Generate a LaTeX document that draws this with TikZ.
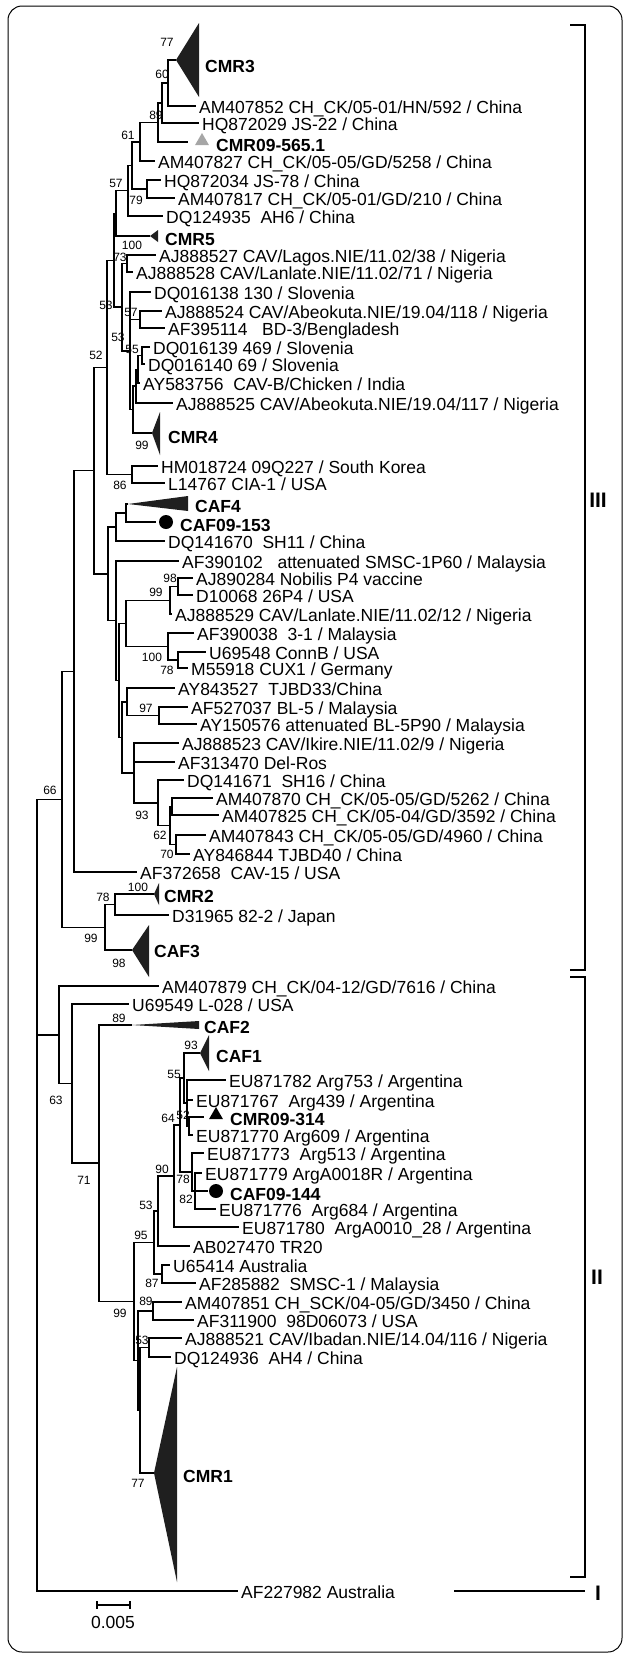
\documentclass[tikz,border=0pt]{standalone}
\usepackage{fontspec}
\setmainfont{Liberation Sans}
\usetikzlibrary{positioning,shapes.geometric}
\begin{document}
\begin{tikzpicture}[x=1pt,y=-1pt,
    leaf/.style={anchor=west,inner xsep=3pt,inner ysep=0pt,text height=14pt,text depth=0pt,
      font=\fontsize{17.5}{18}\selectfont},
    clade/.style={leaf,font=\fontsize{17.5}{18}\selectfont\bfseries},
    boot/.style={inner sep=0pt,font=\fontsize{12}{12}\selectfont},
    group/.style={inner sep=0pt,font=\fontsize{21}{21}\selectfont\bfseries},
    branch/.style={line width=1.5pt},
    collapsed/.style={fill=black!88},
    bracket/.style={line width=2pt}]
  \useasboundingbox (0,0) rectangle (627,1657);
  \draw[line width=1pt,rounded corners=14pt] (8,6) rectangle (622,1652);

  % internal nodes
  \path
    (168,83) coordinate (n60)      (162,103) coordinate (n89)
    (158,122.5) coordinate (n61)   (140,141.75) coordinate (nB)
    (147,189) coordinate (n79)     (132,165.4) coordinate (n57)
    (128,190.7) coordinate (nC)    (116,213.4) coordinate (nD)
    (127,263.5) coordinate (n73)   (140,319.5) coordinate (n57b)
    (142,355.5) coordinate (n55)   (138,369.25) coordinate (nS2)
    (136,386.1) coordinate (nS3)   (133,409.6) coordinate (nS4)
    (130,350.8) coordinate (nS5)   (122,307.2) coordinate (n53)
    (114,260.3) coordinate (n53c)  (132,474.5) coordinate (n86)
    (107,367.4) coordinate (n52)   (126,513) coordinate (nCAF4)
    (116,527) coordinate (nSH11)   (178,586.5) coordinate (n98)
    (170,600.25) coordinate (n99)  (178,660) coordinate (n78)
    (168,646.5) coordinate (n100)  (126,623.4) coordinate (nN1)
    (159,715.5) coordinate (n97)   (127,701.75) coordinate (nT1)
    (172,806.5) coordinate (nC4)   (176,844.5) coordinate (n70)
    (170,825.5) coordinate (n62)   (158,802.75) coordinate (n93)
    (134,772.9) coordinate (nT2)   (122,737.3) coordinate (nQ)
    (119,680.3) coordinate (nY)    (116,620.7) coordinate (nX)
    (108,573.8) coordinate (nL)    (94,470.6) coordinate (n94)
    (74,671.3) coordinate (nIII1)  (115,904.5) coordinate (n78b)
    (105,927.3) coordinate (nIII2) (62,799.3) coordinate (n66)
    (189,1126) coordinate (n52b)   (187,1103) coordinate (n64)
    (184,1078) coordinate (n55b)   (195,1191) coordinate (n82)
    (192,1172) coordinate (n78c)   (180,1125) coordinate (nArg)
    (174,1176) coordinate (n90)    (158,1211) coordinate (n53d)
    (162,1274) coordinate (n87)    (154,1242.5) coordinate (n95)
    (153,1311) coordinate (n89b)   (149,1347.5) coordinate (n53e)
    (140,1410) coordinate (nM2)    (138,1360.5) coordinate (nM)
    (134,1301.5) coordinate (n99c) (99,1163) coordinate (n89n)
    (72,1083.5) coordinate (n71)   (59,1034.75) coordinate (n63)
    (37,1195) coordinate (root);

  % collapsed clades
  \path
    (176,60) coordinate (cmr3)   (150,236) coordinate (cmr5)
    (152,433) coordinate (cmr4)  (128,504) coordinate (caf4)
    (154,894) coordinate (cmr2)  (132,950) coordinate (caf3)
    (132,1025) coordinate (caf2) (200,1053) coordinate (caf1)
    (154,1473) coordinate (cmr1);
  \fill[collapsed] (cmr3) -- (199,23) -- (199,97) -- cycle;
  \fill[collapsed] (cmr5) -- (158,230) -- (158,242) -- cycle;
  \fill[collapsed] (cmr4) -- (160,412) -- (160,455) -- cycle;
  \fill[collapsed] (caf4) -- (188,496) -- (188,511) -- cycle;
  \fill[collapsed] (cmr2) -- (159,883) -- (159,905) -- cycle;
  \fill[collapsed] (caf3) -- (149,925) -- (149,977) -- cycle;
  \fill[collapsed] (caf2) -- (199,1021) -- (199,1029) -- cycle;
  \fill[collapsed] (caf1) -- (209,1035) -- (209,1071) -- cycle;
  \fill[collapsed] (cmr1) -- (177,1367) -- (177,1582) -- cycle;
  \path
    (202,65) node[clade] (cmr3lab) {CMR3}
    (162,238) node[clade] (cmr5lab) {CMR5}
    (165,436) node[clade] (cmr4lab) {CMR4}
    (192,505) node[clade] (caf4lab) {CAF4}
    (161,895) node[clade] (cmr2lab) {CMR2}
    (151,950) node[clade] (caf3lab) {CAF3}
    (201,1026) node[clade] (caf2lab) {CAF2}
    (213,1055) node[clade] (caf1lab) {CAF1}
    (180,1475) node[clade] (cmr1lab) {CMR1};

  % field samples
  \path
    (188,142) coordinate (t565)
    (156,522) coordinate (t153)
    (204,1117) coordinate (t314)
    (208,1191) coordinate (t144);
  \node[regular polygon,regular polygon sides=3,fill=black!35,inner sep=0pt,minimum size=16pt]
    (mk565) at (202,141) {};
  \node[regular polygon,regular polygon sides=3,fill=black,inner sep=0pt,minimum size=16pt]
    (mk314) at (216,1115) {};
  \node[circle,fill=black,inner sep=0pt,minimum size=14pt] (mk153) at (166,522) {};
  \node[circle,fill=black,inner sep=0pt,minimum size=14pt] (mk144) at (216,1191) {};
  \node[clade] (s565) at (213,144) {CMR09-565.1};
  \node[clade] (s153) at (177,524) {CAF09-153};
  \node[clade] (s314) at (227,1118) {CMR09-314};
  \node[clade] (s144) at (227,1193) {CAF09-144};

  % sequences
  \path
    (196,106) node[leaf] (am407852) {AM407852 CH\_CK/05-01/HN/592 / China}
    (199,123) node[leaf] (hq872029) {HQ872029 JS-22 / China}
    (155,161) node[leaf] (am407827) {AM407827 CH\_CK/05-05/GD/5258 / China}
    (161,180) node[leaf] (hq872034) {HQ872034 JS-78 / China}
    (175,198) node[leaf] (am407817) {AM407817 CH\_CK/05-01/GD/210 / China}
    (163,216) node[leaf] (dq124935) {DQ124935~~AH6 / China}
    (156,255) node[leaf] (aj888527) {AJ888527 CAV/Lagos.NIE/11.02/38 / Nigeria}
    (133,272) node[leaf] (aj888528) {AJ888528 CAV/Lanlate.NIE/11.02/71 / Nigeria}
    (151,292) node[leaf] (dq016138) {DQ016138 130 / Slovenia}
    (162,311) node[leaf] (aj888524) {AJ888524 CAV/Abeokuta.NIE/19.04/118 / Nigeria}
    (165,328) node[leaf] (af395114) {AF395114~~~BD-3/Bengladesh}
    (150,347) node[leaf] (dq016139) {DQ016139 469 / Slovenia}
    (145,364) node[leaf] (dq016140) {DQ016140 69 / Slovenia}
    (140,383) node[leaf] (ay583756) {AY583756~~CAV-B/Chicken / India}
    (173,403) node[leaf] (aj888525) {AJ888525 CAV/Abeokuta.NIE/19.04/117 / Nigeria}
    (158,466) node[leaf] (hm018724) {HM018724 09Q227 / South Korea}
    (165,483) node[leaf] (l14767) {L14767 CIA-1 / USA}
    (165,541) node[leaf] (dq141670) {DQ141670~~SH11 / China}
    (179,561) node[leaf] (af390102) {AF390102~~~attenuated SMSC-1P60 / Malaysia}
    (193,578) node[leaf] (aj890284) {AJ890284 Nobilis P4 vaccine}
    (193,595) node[leaf] (d10068) {D10068 26P4 / USA}
    (172,614) node[leaf] (aj888529) {AJ888529 CAV/Lanlate.NIE/11.02/12 / Nigeria}
    (194,633) node[leaf] (af390038) {AF390038~~3-1 / Malaysia}
    (206,652) node[leaf] (u69548) {U69548 ConnB / USA}
    (188,668) node[leaf] (m55918) {M55918 CUX1 / Germany}
    (175,688) node[leaf] (ay843527) {AY843527~~TJBD33/China}
    (188,707) node[leaf] (af527037) {AF527037 BL-5 / Malaysia}
    (197,724) node[leaf] (ay150576) {AY150576 attenuated BL-5P90 / Malaysia}
    (179,743) node[leaf] (aj888523) {AJ888523 CAV/Ikire.NIE/11.02/9 / Nigeria}
    (175,762) node[leaf] (af313470) {AF313470 Del-Ros}
    (184,780) node[leaf] (dq141671) {DQ141671~~SH16 / China}
    (213,798) node[leaf] (am407870) {AM407870 CH\_CK/05-05/GD/5262 / China}
    (219,815) node[leaf] (am407825) {AM407825 CH\_CK/05-04/GD/3592 / China}
    (206,835) node[leaf] (am407843) {AM407843 CH\_CK/05-05/GD/4960 / China}
    (190,854) node[leaf] (ay846844) {AY846844 TJBD40 / China}
    (137,872) node[leaf] (af372658) {AF372658~~CAV-15 / USA}
    (169,915) node[leaf] (d31965) {D31965 82-2 / Japan}
    (159,986) node[leaf] (am407879) {AM407879 CH\_CK/04-12/GD/7616 / China}
    (129,1004) node[leaf] (u69549) {U69549 L-028 / USA}
    (226,1080) node[leaf] (eu871782) {EU871782 Arg753 / Argentina}
    (193,1100) node[leaf] (eu871767) {EU871767~~Arg439 / Argentina}
    (193,1135) node[leaf] (eu871770) {EU871770 Arg609 / Argentina}
    (204,1153) node[leaf] (eu871773) {EU871773~~Arg513 / Argentina}
    (202,1173) node[leaf] (eu871779) {EU871779 ArgA0018R / Argentina}
    (216,1209) node[leaf] (eu871776) {EU871776~~Arg684 / Argentina}
    (239,1227) node[leaf] (eu871780) {EU871780~~ArgA0010\_28 / Argentina}
    (190,1246) node[leaf] (ab027470) {AB027470 TR20}
    (170,1265) node[leaf] (u65414) {U65414 Australia}
    (196,1283) node[leaf] (af285882) {AF285882~~SMSC-1 / Malaysia}
    (182,1302) node[leaf] (am407851) {AM407851 CH\_SCK/04-05/GD/3450 / China}
    (194,1320) node[leaf] (af311900) {AF311900~~98D06073 / USA}
    (182,1338) node[leaf] (aj888521) {AJ888521 CAV/Ibadan.NIE/14.04/116 / Nigeria}
    (171,1357) node[leaf] (dq124936) {DQ124936~~AH4 / China}
    (238,1591) node[leaf] (af227982) {AF227982 Australia};

  % bootstrap values
  \path
    (167,42) node[boot] (bs1) {77}     (162,74) node[boot] (bs2) {60}
    (156,115) node[boot] (bs3) {89}    (128,135) node[boot] (bs4) {61}
    (116,183) node[boot] (bs5) {57}    (136,200) node[boot] (bs6) {79}
    (132,245) node[boot] (bs7) {100}   (120,257) node[boot] (bs8) {73}
    (106,305) node[boot] (bs9) {53}    (131,312) node[boot] (bs10) {57}
    (118,337) node[boot] (bs11) {53}   (132,349) node[boot] (bs12) {55}
    (96,355) node[boot] (bs13) {52}    (142,445) node[boot] (bs14) {99}
    (120,485) node[boot] (bs15) {86}   (170,578) node[boot] (bs16) {98}
    (156,592) node[boot] (bs17) {99}   (152,657) node[boot] (bs18) {100}
    (167,670) node[boot] (bs19) {78}   (146,708) node[boot] (bs20) {97}
    (50,790) node[boot] (bs21) {66}    (142,815) node[boot] (bs22) {93}
    (160,835) node[boot] (bs23) {62}   (167,854) node[boot] (bs24) {70}
    (138,887) node[boot] (bs25) {100}  (103,897) node[boot] (bs26) {78}
    (91,938) node[boot] (bs27) {99}    (119,963) node[boot] (bs28) {98}
    (119,1018) node[boot] (bs29) {89}  (191,1045) node[boot] (bs30) {93}
    (174,1074) node[boot] (bs31) {55}  (56,1100) node[boot] (bs32) {63}
    (168,1118) node[boot] (bs33) {64}  (183,1115) node[boot] (bs34) {52}
    (162,1169) node[boot] (bs35) {90}  (183,1179) node[boot] (bs36) {78}
    (84,1180) node[boot] (bs37) {71}   (186,1199) node[boot] (bs38) {82}
    (146,1205) node[boot] (bs39) {53}  (141,1235) node[boot] (bs40) {95}
    (152,1283) node[boot] (bs41) {87}  (146,1301) node[boot] (bs42) {89}
    (120,1313) node[boot] (bs43) {99}  (142,1340) node[boot] (bs44) {53}
    (138,1483) node[boot] (bs45) {77};

  \begin{scope}[branch]
    \draw (n60) |- (cmr3);        \draw (n60) |- (am407852.west);
    \draw (n89) |- (n60);         \draw (n89) |- (hq872029.west);
    \draw (n61) |- (n89);         \draw (n61) |- (t565);
    \draw (nB) |- (n61);          \draw (nB) |- (am407827.west);
    \draw (n79) |- (hq872034.west); \draw (n79) |- (am407817.west);
    \draw (n57) |- (nB);          \draw (n57) |- (n79);
    \draw (nC) |- (n57);          \draw (nC) |- (dq124935.west);
    \draw (nD) |- (nC);           \draw (nD) |- (cmr5);
    \draw (n73) |- (aj888527.west); \draw (n73) |- (aj888528.west);
    \draw (n57b) |- (aj888524.west); \draw (n57b) |- (af395114.west);
    \draw (n55) |- (dq016139.west); \draw (n55) |- (dq016140.west);
    \draw (nS2) |- (n55);         \draw (nS2) |- (ay583756.west);
    \draw (nS3) |- (nS2);         \draw (nS3) |- (aj888525.west);
    \draw (nS4) |- (nS3);         \draw (nS4) |- (cmr4);
    \draw (nS5) |- (dq016138.west); \draw (nS5) |- (n57b); \draw (nS5) |- (nS4);
    \draw (n53) |- (n73);         \draw (n53) |- (nS5);
    \draw (n53c) |- (nD);         \draw (n53c) |- (n53);
    \draw (n86) |- (hm018724.west); \draw (n86) |- (l14767.west);
    \draw (n52) |- (n53c);        \draw (n52) |- (n86);
    \draw (nCAF4) |- (caf4);      \draw (nCAF4) |- (t153);
    \draw (nSH11) |- (nCAF4);     \draw (nSH11) |- (dq141670.west);
    \draw (n98) |- (aj890284.west); \draw (n98) |- (d10068.west);
    \draw (n99) |- (n98);         \draw (n99) |- (aj888529.west);
    \draw (n78) |- (u69548.west); \draw (n78) |- (m55918.west);
    \draw (n100) |- (af390038.west); \draw (n100) |- (n78);
    \draw (nN1) |- (n99);         \draw (nN1) |- (n100);
    \draw (n97) |- (af527037.west); \draw (n97) |- (ay150576.west);
    \draw (nT1) |- (ay843527.west); \draw (nT1) |- (n97);
    \draw (nC4) |- (am407870.west); \draw (nC4) |- (am407825.west);
    \draw (n70) |- (am407843.west); \draw (n70) |- (ay846844.west);
    \draw (n62) |- (nC4);         \draw (n62) |- (n70);
    \draw (n93) |- (dq141671.west); \draw (n93) |- (n62);
    \draw (nT2) |- (aj888523.west); \draw (nT2) |- (af313470.west); \draw (nT2) |- (n93);
    \draw (nQ) |- (nT1);          \draw (nQ) |- (nT2);
    \draw (nY) |- (nN1);          \draw (nY) |- (nQ);
    \draw (nX) |- (af390102.west); \draw (nX) |- (nY);
    \draw (nL) |- (nSH11);        \draw (nL) |- (nX);
    \draw (n94) |- (n52);         \draw (n94) |- (nL);
    \draw (nIII1) |- (n94);       \draw (nIII1) |- (af372658.west);
    \draw (n78b) |- (cmr2);       \draw (n78b) |- (d31965.west);
    \draw (nIII2) |- (n78b);      \draw (nIII2) |- (caf3);
    \draw (n66) |- (nIII1);       \draw (n66) |- (nIII2);
    \draw (n52b) |- (t314);       \draw (n52b) |- (eu871770.west);
    \draw (n64) |- (eu871782.west); \draw (n64) |- (eu871767.west); \draw (n64) |- (n52b);
    \draw (n55b) |- (caf1);       \draw (n55b) |- (n64);
    \draw (n82) |- (eu871779.west); \draw (n82) |- (t144); \draw (n82) |- (eu871776.west);
    \draw (n78c) |- (eu871773.west); \draw (n78c) |- (n82);
    \draw (nArg) |- (n55b);       \draw (nArg) |- (n78c);
    \draw (n90) |- (nArg);        \draw (n90) |- (eu871780.west);
    \draw (n53d) |- (n90);        \draw (n53d) |- (ab027470.west);
    \draw (n87) |- (u65414.west); \draw (n87) |- (af285882.west);
    \draw (n95) |- (n53d);        \draw (n95) |- (n87);
    \draw (n89b) |- (am407851.west); \draw (n89b) |- (af311900.west);
    \draw (n53e) |- (aj888521.west); \draw (n53e) |- (dq124936.west);
    \draw (nM2) |- (n53e);        \draw (nM2) |- (cmr1);
    \draw (nM) |- (n89b);         \draw (nM) |- (nM2);
    \draw (n99c) |- (n95);        \draw (n99c) |- (nM);
    \draw (n89n) |- (caf2);       \draw (n89n) |- (n99c);
    \draw (n71) |- (u69549.west); \draw (n71) |- (n89n);
    \draw (n63) |- (am407879.west); \draw (n63) |- (n71);
    \draw (root) |- (n66);        \draw (root) |- (n63);  \draw (root) |- (af227982.west);
  \end{scope}

  % genogroups
  \draw[bracket] (570,25) -| (585,970) -- (570,970);
  \draw[bracket] (570,977) -| (585,1577) -- (570,1577);
  \draw[bracket] (454,1591) -- (585,1591);
  \node[group] (gIII) at (598,500) {III};
  \node[group] (gII) at (597,1277) {II};
  \node[group] (gI) at (598,1593) {I};

  % scale bar
  \draw[line width=1.2pt] (97,1605) -- (130,1605);
  \draw[line width=1.2pt] (97,1601) -- (97,1609) (130,1601) -- (130,1609);
  \node[leaf,anchor=center] (scale) at (113,1621) {0.005};
\end{tikzpicture}
\end{document}
